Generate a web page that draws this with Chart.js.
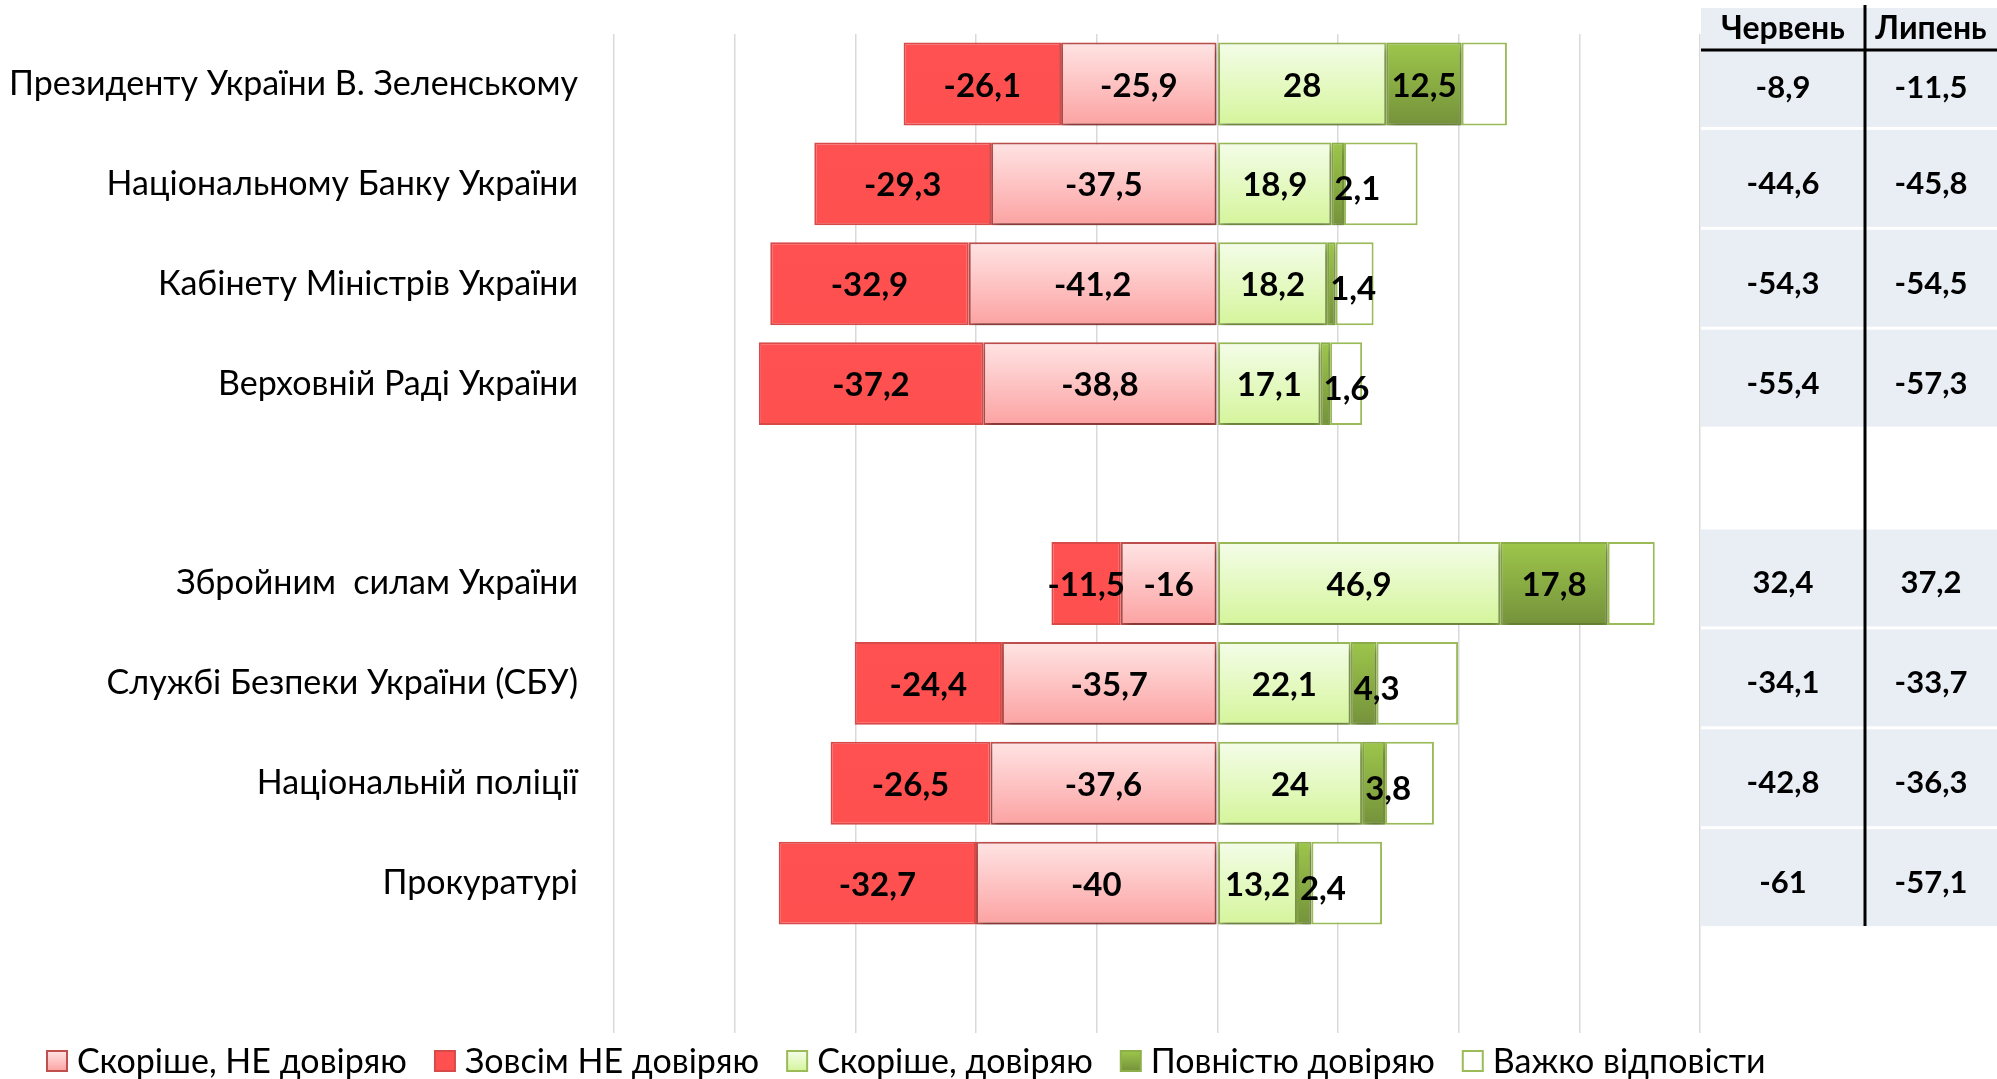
<!DOCTYPE html>
<html>
<head>
<meta charset="utf-8">
<script src="https://cdn.jsdelivr.net/npm/chart.js@4/dist/chart.umd.min.js"></script>
<style>
  html, body { margin: 0; padding: 0; background: #fff; }
</style>
</head>
<body>
<canvas id="trustChart" width="1997" height="1079"></canvas>
<script>
// categories (empty ones leave the gap in the middle and the space at the bottom)
const categories = [
  "Президенту України В. Зеленському",
  "Національному Банку України",
  "Кабінету Міністрів України",
  "Верховній Раді України",
  "",
  "Збройним  силам України",
  "Службі Безпеки України (СБУ)",
  "Національній поліції",
  "Прокуратурі",
  ""
];
const ratherDistrust = [-25.9, -37.5, -41.2, -38.8, null, -16, -35.7, -37.6, -40, null];
const fullyDistrust  = [-26.1, -29.3, -32.9, -37.2, null, -11.5, -24.4, -26.5, -32.7, null];
const ratherTrust    = [28, 18.9, 18.2, 17.1, null, 46.9, 22.1, 24, 13.2, null];
const fullyTrust     = [12.5, 2.1, 1.4, 1.6, null, 17.8, 4.3, 3.8, 2.4, null];
const hardToSay      = [7.5, 12.2, 6.3, 5.3, null, 7.8, 13.5, 8.1, 11.7, null];

const monthHeaders = ["Червень", "Липень"];
const balanceJune = [-8.9, -44.6, -54.3, -55.4, null, 32.4, -34.1, -42.8, -61, null];
const balanceJuly = [-11.5, -45.8, -54.5, -57.3, null, 37.2, -33.7, -36.3, -57.1, null];

const FONT = "Lato";
const BAR_SHARE = 0.83;

function fmt(v) {
  return String(v).replace(".", ",");
}

// vertical gradient spanning one bar
function barGradient(top, bottom) {
  return function (ctx) {
    const chart = ctx.chart;
    const y = chart.scales.y;
    if (!y || ctx.type !== "data") return bottom;
    const yc = y.getPixelForValue(ctx.dataIndex);
    const h = (y.bottom - y.top) / categories.length * BAR_SHARE;
    if (!isFinite(yc) || !isFinite(h)) return bottom;
    const g = chart.ctx.createLinearGradient(0, yc - h / 2, 0, yc + h / 2);
    g.addColorStop(0, top);
    g.addColorStop(1, bottom);
    return g;
  };
}

const series = [
  { label: "Скоріше, НЕ довіряю", data: ratherDistrust, top: "#ffe4e4", bottom: "#fca2a2", border: "#c0504d", shadow: true, labels: true },
  { label: "Зовсім НЕ довіряю", data: fullyDistrust, top: "#ff5151", bottom: "#ff5050", border: "#d84a4a", shadow: false, labels: true },
  { label: "Скоріше, довіряю", data: ratherTrust, top: "#f4fde9", bottom: "#d5f59b", border: "#9bbb59", shadow: true, labels: true },
  { label: "Повністю довіряю", data: fullyTrust, top: "#9dc64b", bottom: "#75923b", border: "#8db04a", shadow: true, labels: true, labelAtStart: true },
  { label: "Важко відповісти", data: hardToSay, top: "#ffffff", bottom: "#ffffff", border: "#9bbb59", shadow: false, labels: false }
];

const shadowPlugin = {
  id: "barShadow",
  beforeDatasetDraw(chart, args) {
    if (!chart.data.datasets[args.index].shadow) return;
    const c = chart.ctx;
    c.save();
    c.shadowColor = "rgba(0,0,0,0.35)";
    c.shadowBlur = 8;
    c.shadowOffsetX = 2;
    c.shadowOffsetY = 5;
  },
  afterDatasetDraw(chart, args) {
    if (chart.data.datasets[args.index].shadow) chart.ctx.restore();
  }
};

const labelPlugin = {
  id: "segmentLabels",
  afterDatasetsDraw(chart) {
    const c = chart.ctx;
    c.save();
    c.font = "bold 33px " + FONT;
    c.fillStyle = "#000";
    c.textAlign = "center";
    c.textBaseline = "middle";
    chart.data.datasets.forEach((ds, di) => {
      if (!ds.labels) return;
      chart.getDatasetMeta(di).data.forEach((bar, i) => {
        const v = ds.data[i];
        if (v == null) return;
        const text = fmt(v);
        const left = Math.min(bar.x, bar.base);
        const right = Math.max(bar.x, bar.base);
        const w = c.measureText(text).width;
        let x = (left + right) / 2;
        let dy = 2;
        if (ds.labelAtStart && w + 8 > right - left) {
          x = left + 3 + w / 2;
          dy = 6;
        }
        c.fillText(text, x, bar.y + dy);
      });
    });
    c.restore();
  }
};

const tablePlugin = {
  id: "balanceTable",
  afterDraw(chart) {
    const c = chart.ctx;
    const y = chart.scales.y;
    const x0 = chart.chartArea.right + 1;
    const x1 = chart.width;
    const xm = 1865;
    const step = y.getPixelForValue(1) - y.getPixelForValue(0);
    const headerTop = 8, headerBottom = 50;
    c.save();
    c.fillStyle = "#e9edf4";
    c.fillRect(x0, headerTop, x1 - x0, headerBottom - headerTop);
    let lastBottom = headerBottom;
    balanceJune.forEach((v, i) => {
      if (v == null) return;
      const yc = y.getPixelForValue(i);
      const top = i === 0 ? headerBottom : yc - step / 2 - 4;
      const bottom = yc + step / 2 - 7;
      c.fillRect(x0, top, x1 - x0, bottom - top);
      lastBottom = bottom;
    });
    // header rule and column divider
    c.strokeStyle = "#000";
    c.lineWidth = 3;
    c.beginPath();
    c.moveTo(x0, headerBottom);
    c.lineTo(x1, headerBottom);
    c.moveTo(xm, 5);
    c.lineTo(xm, lastBottom);
    c.stroke();

    c.fillStyle = "#000";
    c.textAlign = "center";
    c.textBaseline = "middle";
    c.font = "bold 32px " + FONT;
    const colCenters = [(x0 + xm) / 2, (xm + x1) / 2];
    monthHeaders.forEach((h, k) => c.fillText(h, colCenters[k], 29));
    c.font = "bold 31px " + FONT;
    [balanceJune, balanceJuly].forEach((col, k) => {
      col.forEach((v, i) => {
        if (v == null) return;
        let yc = y.getPixelForValue(i);
        if (i === 0) yc = (headerBottom + yc + step / 2 - 7) / 2;
        c.fillText(fmt(v), colCenters[k], yc);
      });
    });
    c.restore();
  }
};

const legendPlugin = {
  id: "bottomLegend",
  afterDraw(chart) {
    const c = chart.ctx;
    const yc = 1061;
    const box = 20;
    let x = 47;
    c.save();
    c.font = "34px " + FONT;
    c.textBaseline = "middle";
    c.textAlign = "left";
    chart.data.datasets.forEach((ds) => {
      const g = c.createLinearGradient(0, yc - box / 2, 0, yc + box / 2);
      g.addColorStop(0, ds.top);
      g.addColorStop(1, ds.bottom);
      c.fillStyle = g;
      c.fillRect(x, yc - box / 2, box, box);
      c.strokeStyle = ds.border;
      c.lineWidth = 2;
      c.strokeRect(x, yc - box / 2, box, box);
      x += box + 10;
      c.fillStyle = "#000";
      c.fillText(ds.label, x, yc + 1);
      x += c.measureText(ds.label).width + 28;
    });
    c.restore();
  }
};

const config = {
  type: "bar",
  data: {
    labels: categories,
    datasets: series.map((s) => ({
      label: s.label,
      data: s.data,
      backgroundColor: barGradient(s.top, s.bottom),
      borderColor: s.border,
      borderWidth: 2,
      borderSkipped: false,
      categoryPercentage: 1,
      barPercentage: BAR_SHARE,
      top: s.top,
      bottom: s.bottom,
      border: s.border,
      shadow: s.shadow,
      labels: s.labels,
      labelAtStart: s.labelAtStart
    }))
  },
  options: {
    indexAxis: "y",
    responsive: false,
    animation: false,
    devicePixelRatio: 1,
    layout: { padding: { left: 0, right: 297, top: 34, bottom: 46 } },
    plugins: {
      legend: { display: false },
      tooltip: { enabled: false }
    },
    scales: {
      x: {
        stacked: true,
        min: -100,
        max: 80,
        ticks: { display: false, stepSize: 20 },
        grid: { color: "#d9d9d9", lineWidth: 1.5, drawTicks: false },
        border: { display: false },
        afterFit(scale) { scale.height = 0; scale.paddingLeft = 0; scale.paddingRight = 0; }
      },
      y: {
        stacked: true,
        grid: { display: false, drawTicks: false },
        border: { display: false },
        ticks: {
          color: "#000",
          padding: 36,
          autoSkip: false,
          font: { family: FONT, size: 34 }
        },
        afterFit(scale) {
          scale.width = 614;
          scale.paddingTop = 0;
          scale.paddingBottom = 0;
        }
      }
    }
  },
  plugins: [shadowPlugin, labelPlugin, tablePlugin, legendPlugin]
};

let trustChart = new Chart(document.getElementById("trustChart"), config);
</script>
</body>
</html>
